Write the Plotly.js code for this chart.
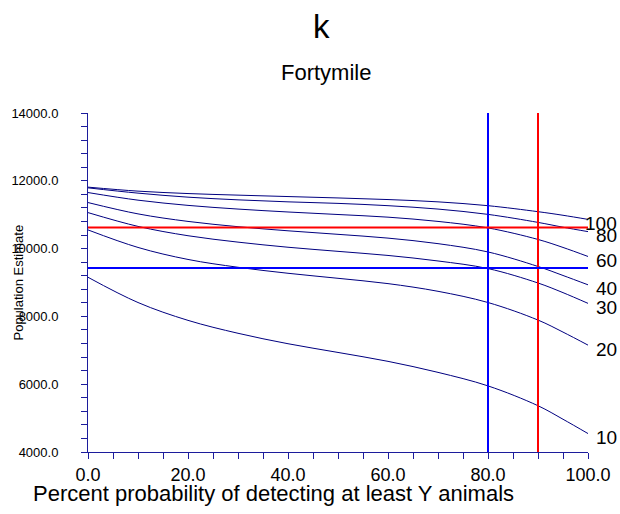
<!DOCTYPE html>
<html>
<head>
<meta charset="utf-8">
<script src="https://cdn.plot.ly/plotly-3.0.1.min.js"></script>
<style>
  html, body { margin: 0; padding: 0; background: #ffffff; }
  #chart { width: 620px; height: 514px; }
</style>
</head>
<body>
<div id="chart"></div>
<script>
// ---- data ----
const probX = [0, 10, 20, 30, 40, 50, 60, 70, 80, 90, 95, 100];
const curveNames = ["100", "80", "60", "40", "30", "20", "10"];
const est100 = [11813, 11695, 11624, 11577, 11535, 11494, 11447, 11379, 11266, 11089, 10983, 10862];
const est80  = [11792, 11636, 11517, 11438, 11379, 11334, 11266, 11166, 11009, 10773, 10631, 10501];
const est60  = [11653, 11429, 11275, 11166, 11080, 11006, 10927, 10802, 10610, 10270, 10034, 9768];
const est40  = [11358, 11024, 10802, 10646, 10525, 10421, 10309, 10146, 9901, 9473, 9207, 8932];
const est30  = [11062, 10655, 10380, 10191, 10040, 9919, 9798, 9635, 9411, 8985, 8701, 8385];
const est20  = [10551, 10034, 9680, 9449, 9272, 9124, 8967, 8740, 8409, 7892, 7537, 7153];
const est10  = [9154, 8409, 7883, 7502, 7194, 6937, 6674, 6349, 5950, 5365, 4966, 4544];
const curveValues = [est100, est80, est60, est40, est30, est20, est10];

// reference lines
const refVerticalX = [80, 90];
const refHorizontalY = [9430, 10620];
const refColors = ["#0000ff", "#ff0000"];

const xRange = [0, 100];
const yRange = [4000, 14000];

const chartTitle = "k";
const chartSubtitle = "Fortymile";
const xTitle = "Percent probability of detecting at least Y animals";
const yTitle = "Population Estimate";

// ---- build traces ----
const FONT = "Liberation Sans, Arial, Helvetica, sans-serif";
const NAVY = "#000080";
const AXIS = "#1c1c9c";

const traces = [];
curveValues.forEach((vals, i) => {
  traces.push({
    type: "scatter", mode: "lines", x: probX, y: vals, name: curveNames[i],
    line: { color: NAVY, width: 1, shape: "spline", smoothing: 1 },
    hoverinfo: "skip", showlegend: false
  });
});
refVerticalX.forEach((vx, i) => {
  traces.push({
    type: "scatter", mode: "lines", x: [vx, vx], y: yRange,
    line: { color: refColors[i], width: 2 }, hoverinfo: "skip", showlegend: false
  });
});
refHorizontalY.forEach((hy, i) => {
  traces.push({
    type: "scatter", mode: "lines", x: xRange, y: [hy, hy],
    line: { color: refColors[i], width: 2 }, hoverinfo: "skip", showlegend: false
  });
});

const annotations = [
  { text: chartSubtitle, xref: "paper", yref: "paper", x: 0.476, y: 1.118,
    xanchor: "center", yanchor: "middle", showarrow: false,
    font: { family: FONT, size: 22, color: "#000" } },
  { text: xTitle, xref: "paper", yref: "paper", x: 0.37, y: -0.123,
    xanchor: "center", yanchor: "middle", showarrow: false,
    font: { family: FONT, size: 22, color: "#000" } },
  { text: yTitle, xref: "paper", yref: "paper", x: -0.139, y: 0.4985,
    xanchor: "center", yanchor: "middle", textangle: -90, showarrow: false,
    font: { family: FONT, size: 13, color: "#000" } }
];
curveValues.forEach((vals, i) => {
  annotations.push({
    text: curveNames[i], xref: "paper", yref: "y", x: 1.062, y: vals[vals.length - 1],
    xanchor: "right", yanchor: "middle", yshift: -4, showarrow: false,
    font: { family: FONT, size: 19, color: "#000" }
  });
});

const layout = {
  width: 620, height: 514,
  margin: { l: 88, r: 32, t: 113, b: 62, pad: 0 },
  paper_bgcolor: "#ffffff", plot_bgcolor: "#ffffff",
  font: { family: FONT, color: "#000" },
  showlegend: false,
  title: {
    text: chartTitle, font: { family: FONT, size: 33, color: "#000" },
    xref: "container", yref: "container", x: 0.518, y: 0.948,
    xanchor: "center", yanchor: "middle"
  },
  xaxis: {
    range: xRange, dtick: 20, tick0: 0, tickformat: ".1f",
    showline: true, linecolor: AXIS, linewidth: 1,
    ticks: "outside", ticklen: 6, tickcolor: AXIS, tickwidth: 1,
    minor: { dtick: 5, ticks: "outside", ticklen: 6, tickcolor: AXIS, tickwidth: 1, showgrid: false },
    showgrid: false, zeroline: false,
    tickfont: { family: FONT, size: 18, color: "#000" },
    fixedrange: true
  },
  yaxis: {
    range: yRange, dtick: 2000, tick0: 4000, tickformat: ".1f",
    showline: true, linecolor: AXIS, linewidth: 1,
    ticks: "outside", ticklen: 6, tickcolor: AXIS, tickwidth: 1,
    minor: { dtick: 400, ticks: "outside", ticklen: 6, tickcolor: AXIS, tickwidth: 1, showgrid: false },
    showgrid: false, zeroline: false,
    tickfont: { family: FONT, size: 13, color: "#000" },
    ticklabelstandoff: 20,
    fixedrange: true
  },
  annotations: annotations
};

Plotly.newPlot("chart", traces, layout, { staticPlot: true, displayModeBar: false });
</script>
</body>
</html>
